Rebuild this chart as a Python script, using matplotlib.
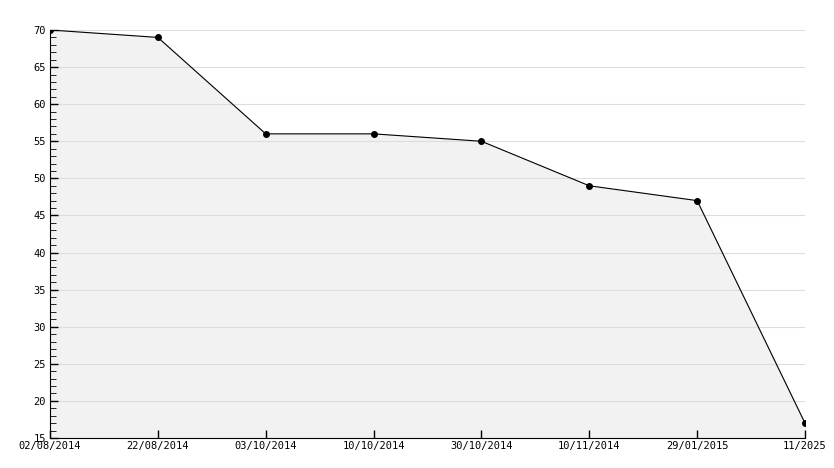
import matplotlib
matplotlib.use('Agg')
import matplotlib.pyplot as plt
from matplotlib.ticker import MultipleLocator

dates = ['02/08/2014', '22/08/2014', '03/10/2014', '10/10/2014',
         '30/10/2014', '10/11/2014', '29/01/2015', '11/2025']
values = [70, 69, 56, 56, 55, 49, 47, 17]

plt.rcParams['font.family'] = ['DejaVu Sans Mono']

fig = plt.figure(figsize=(8.34, 4.68), dpi=100)
ax = fig.add_axes([50 / 834, 30 / 468, 755 / 834, 408 / 468])
x = list(range(len(values)))

ax.fill_between(x, values, 15, color='#f2f2f2', zorder=1)
ax.plot(x, values, color='black', lw=0.8, marker='o', ms=4, zorder=3)

ax.set_xlim(0, len(values) - 1)
ax.set_ylim(15, 70)
ax.set_xticks(x)
ax.set_xticklabels(dates)
ax.yaxis.set_major_locator(MultipleLocator(5))
ax.yaxis.set_minor_locator(MultipleLocator(1))
ax.grid(axis='y', color='#dddddd', lw=0.8)
ax.set_axisbelow('line')

for s in ['top', 'right']:
    ax.spines[s].set_visible(False)
ax.tick_params(direction='in', labelsize=7.5, length=6, width=1)
ax.tick_params(axis='y', which='minor', direction='in', length=4)
ax.tick_params(axis='x', pad=2)
ax.tick_params(axis='y', pad=3)

fig.savefig('out.png', dpi=100)
